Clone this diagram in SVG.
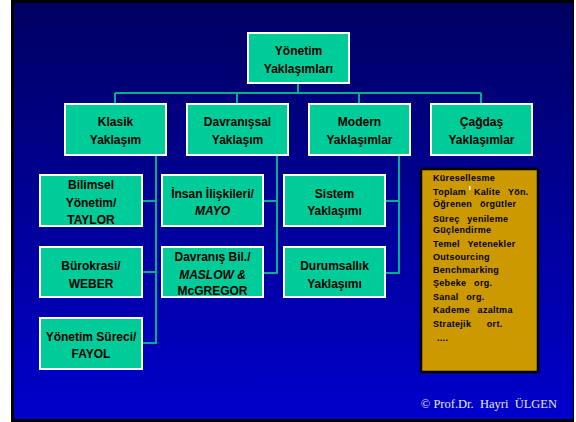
<svg xmlns="http://www.w3.org/2000/svg" width="576" height="422" viewBox="0 0 576 422">
<defs>
<linearGradient id="bg" x1="0" y1="0" x2="0" y2="1">
<stop offset="0" stop-color="#000062"/>
<stop offset="1" stop-color="#0000CC"/>
</linearGradient>
<style>
.n rect{fill:#00CC99;stroke:#FFFFFF;stroke-width:2}
.n text{font-family:"Liberation Sans",Arial,sans-serif;font-size:12px;font-weight:bold;fill:#000;text-anchor:middle}
.c{stroke:#00B08C;stroke-width:2;fill:none}
.g{font-family:"Liberation Sans",Arial,sans-serif;font-size:9px;font-weight:bold;fill:#000;white-space:pre;letter-spacing:0.3px;word-spacing:5px}
</style>
</defs>
<rect x="0" y="0" width="576" height="422" fill="#FFFFFF"/>
<rect x="11" y="0" width="563" height="422" fill="#000"/>
<rect x="14" y="3" width="559" height="416" fill="url(#bg)"/>

<g id="connectors">
<path class="c" d="M298 83V93M115 93H481M115 93V104M237 93V104M359 93V104M481 93V104"/>
<path class="c" d="M156 156V343H142M156 201H142M156 272H142"/>
<path class="c" d="M277 156V273H263M277 201H263"/>
<path class="c" d="M399 156V273H385M399 201H385"/>
</g>

<g id="root" class="n"><rect x="248" y="33" width="101" height="50"/><text x="298.5" y="55">Yönetim</text><text x="298.5" y="72.5">Yaklaşımları</text></g>

<g id="klasik" class="n"><rect x="65" y="104" width="101" height="51"/><text x="115.5" y="125.5">Klasik</text><text x="115.5" y="144">Yaklaşım</text></g>
<g id="davranissal" class="n"><rect x="187" y="104" width="101" height="51"/><text x="237.5" y="125.5">Davranışsal</text><text x="237.5" y="144">Yaklaşım</text></g>
<g id="modern" class="n"><rect x="309" y="104" width="101" height="51"/><text x="359.5" y="125.5">Modern</text><text x="359.5" y="144">Yaklaşımlar</text></g>
<g id="cagdas" class="n"><rect x="431" y="104" width="101" height="51"/><text x="481.5" y="125.5">Çağdaş</text><text x="481.5" y="144">Yaklaşımlar</text></g>

<g id="bilimsel" class="n"><rect x="40" y="175" width="102" height="51"/><text x="91" y="188.5">Bilimsel</text><text x="91" y="206.5">Yönetim/</text><text x="91" y="223.5">TAYLOR</text></g>
<g id="burokrasi" class="n"><rect x="40" y="247" width="102" height="50"/><text x="91" y="269.5">Bürokrasi/</text><text x="91" y="287.5">WEBER</text></g>
<g id="yonetimsureci" class="n"><rect x="40" y="318" width="102" height="51"/><text x="91" y="340.5">Yönetim Süreci/</text><text x="91" y="357.5">FAYOL</text></g>

<g id="insan" class="n"><rect x="162" y="175" width="101" height="51"/><text x="212.5" y="197.5">İnsan İlişkileri/</text><text x="212.5" y="215" font-style="italic">MAYO</text></g>
<g id="davranisbil" class="n"><rect x="162" y="247" width="101" height="50"/><text x="212.5" y="261">Davranış Bil./</text><text x="212.5" y="279" font-style="italic">MASLOW &amp;</text><text x="212.5" y="295">McGREGOR</text></g>

<g id="sistem" class="n"><rect x="284" y="175" width="101" height="51"/><text x="334.5" y="197.5">Sistem</text><text x="334.5" y="215">Yaklaşımı</text></g>
<g id="durumsallik" class="n"><rect x="284" y="247" width="101" height="50"/><text x="334.5" y="269.5">Durumsallık</text><text x="334.5" y="287.5">Yaklaşımı</text></g>

<g id="cagdaslist">
<rect x="421" y="169" width="117" height="203" fill="#CC9900" stroke="#000" stroke-width="2.5"/>
<text class="g" x="433" y="180.5">Küresellesme</text>
<text class="g" x="433" y="195">Toplam Kalite Yön.</text>
<rect x="469" y="186" width="1.5" height="4" fill="#FFFFFF"/>
<text class="g" x="433" y="206.5">Öğrenen örgütler</text>
<text class="g" x="433" y="221.5">Süreç yenileme</text>
<text class="g" x="433" y="232.5">Güçlendirme</text>
<text class="g" x="433" y="246.5">Temel Yetenekler</text>
<text class="g" x="433" y="259.5">Outsourcing</text>
<text class="g" x="433" y="272.5">Benchmarking</text>
<text class="g" x="433" y="285.5">Şebeke org.</text>
<text class="g" x="433" y="299.5">Sanal org.</text>
<text class="g" x="433" y="312.5">Kademe azaltma</text>
<text class="g" x="433" y="326.5">Stratejik  ort.</text>
<text class="g" x="437" y="341" font-size="6">....</text>
</g>

<text x="557" y="408" font-family="'Liberation Serif','Times New Roman',serif" font-size="12.5" fill="#E6E6E6" text-anchor="end" style="white-space:pre">© Prof.Dr.  Hayri  ÜLGEN</text>
</svg>
